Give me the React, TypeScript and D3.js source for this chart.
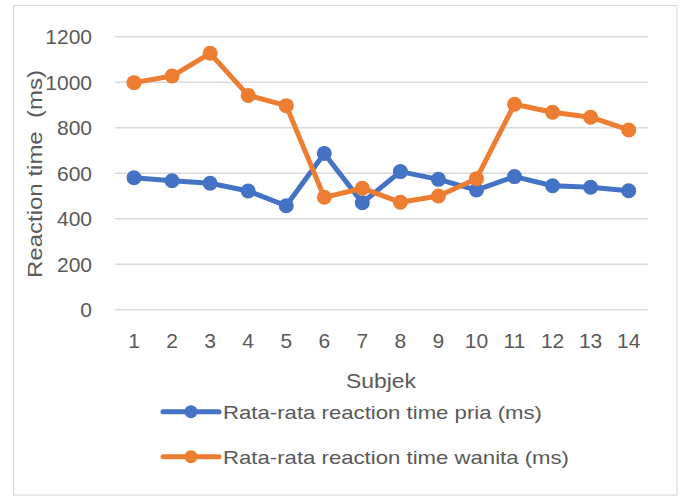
import React from "react";
import * as d3 from "d3";

const categories = ["1","2","3","4","5","6","7","8","9","10","11","12","13","14"];
const pria = [580, 567, 556, 522, 457, 687, 470, 607, 573, 526, 585, 545, 538, 523];
const wanita = [998, 1027, 1127, 942, 897, 494, 534, 472, 500, 576, 903, 868, 846, 790];
const yTicks = [0, 200, 400, 600, 800, 1000, 1200];
const seriesNames = ["Rata-rata reaction time pria (ms)", "Rata-rata reaction time wanita (ms)"];
const colors = ["#4472C4", "#ED7D31"];

export default function App() {
  const W = 683, H = 496;
  const x = d3.scaleBand<string>().domain(categories).range([115, 647.7]);
  const y = d3.scaleLinear().domain([0, 1200]).range([309.7, 36.7]);
  const cx = (c: string) => (x(c) as number) + x.bandwidth() / 2;
  const line = d3.line<number>().x((_, i) => cx(categories[i])).y((v) => y(v));
  const font = "'Liberation Sans', Arial, sans-serif";
  const textColor = "#595959";
  const series = [pria, wanita];
  const legendY = [411.7, 456.7];
  const legendW = [319, 346];
  return (
    <svg width={W} height={H} style={{ position: "absolute", left: 0, top: 0, display: "block" }} fontFamily={font}>
      <rect x={0} y={0} width={W} height={H} fill="#fff" />
      <rect x={13.5} y={5.5} width={663.5} height={489.5} fill="#fff" stroke="#d9d9d9" strokeWidth={1.2} />
      {yTicks.map((t) => (
        <g key={t}>
          <line x1={115} x2={647.7} y1={y(t)} y2={y(t)} stroke="#d9d9d9" strokeWidth={1.5} />
          <text x={92} y={y(t)} dy="0.36em" textAnchor="end" fontSize={21} fill={textColor}>{t}</text>
        </g>
      ))}
      {categories.map((c) => (
        <text key={c} x={cx(c)} y={340.8} dy="0.36em" textAnchor="middle" fontSize={21} fill={textColor}>{c}</text>
      ))}
      <text x={381} y={380} dy="0.36em" textAnchor="middle" fontSize={21} fill={textColor}
        textLength={70} lengthAdjust="spacingAndGlyphs">Subjek</text>
      <text transform="translate(35,174) rotate(-90)" textAnchor="middle" dy="0.36em" fontSize={20} fill={textColor}
        textLength={208} lengthAdjust="spacingAndGlyphs">{"Reaction time\u00a0 (ms)"}</text>
      {series.map((s, k) => (
        <g key={k}>
          <path d={line(s) as string} fill="none" stroke={colors[k]} strokeWidth={5} strokeLinejoin="round" />
          {s.map((v, i) => (
            <circle key={i} cx={cx(categories[i])} cy={y(v)} r={7.5} fill={colors[k]} />
          ))}
        </g>
      ))}
      {seriesNames.map((n, k) => (
        <g key={n}>
          <line x1={163} x2={219} y1={legendY[k]} y2={legendY[k]} stroke={colors[k]} strokeWidth={5} strokeLinecap="round" />
          <circle cx={191} cy={legendY[k]} r={6.5} fill={colors[k]} />
          <text x={223} y={legendY[k]} dy="0.36em" fontSize={19} fill={textColor}
            textLength={legendW[k]} lengthAdjust="spacingAndGlyphs">{n}</text>
        </g>
      ))}
    </svg>
  );
}
